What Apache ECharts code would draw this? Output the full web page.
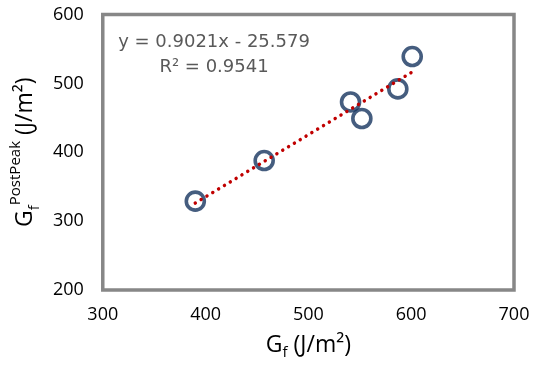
<!DOCTYPE html>
<html>
<head>
<meta charset="utf-8">
<script src="https://cdn.jsdelivr.net/npm/echarts@6/dist/echarts.min.js"></script>
<style>html,body{margin:0;padding:0;background:#fff}#c{width:535px;height:367px}</style>
</head>
<body>
<div id="c"></div>
<script>
// Data
const gf = [390, 457, 541, 552, 587, 601];
const gfPostPeak = [329, 388, 473, 449, 492, 539];
const xTicks = [300, 400, 500, 600, 700];
const yTicks = [200, 300, 400, 500, 600];
const slope = 0.9021;
const intercept = -25.579;
const rSquared = 0.9541;

const points = gf.map((x, i) => [x, gfPostPeak[i]]);
const xMinD = Math.min(...gf), xMaxD = Math.max(...gf);
const trend = [[xMinD, slope * xMinD + intercept], [xMaxD, slope * xMaxD + intercept]];

const chart = echarts.init(document.getElementById('c'), null, {renderer: 'canvas'});
const labelFont = {fontFamily: 'Open Sans', fontSize: 18, color: '#000'};
chart.setOption({
  animation: false,
  grid: {left: 98, right: 21, top: 14.5, bottom: 77, show: true, borderColor: '#878787', borderWidth: 3.5, backgroundColor: 'transparent'},
  xAxis: {
    type: 'value', min: xTicks[0], max: xTicks[xTicks.length - 1], interval: 100,
    axisLine: {show: false}, axisTick: {show: false}, splitLine: {show: false},
    axisLabel: Object.assign({margin: 16}, labelFont),
    name: '{b|G}{sub|f}{b| (J/m²)}', nameLocation: 'middle', nameGap: 40,
    nameTextStyle: {
      rich: {
        b: {fontFamily: 'Open Sans', fontSize: 23, color: '#000', lineHeight: 30, verticalAlign: 'middle'},
        sub: {fontFamily: 'Open Sans', fontSize: 15, color: '#000', lineHeight: 30, verticalAlign: 'bottom'}
      }
    }
  },
  yAxis: {
    type: 'value', min: yTicks[0], max: yTicks[yTicks.length - 1], interval: 100,
    axisLine: {show: false}, axisTick: {show: false}, splitLine: {show: false},
    axisLabel: Object.assign({margin: 19}, labelFont),
    name: '{b|G}{sub|f}{sup|PostPeak}{b| (J/m²)}', nameLocation: 'middle', nameGap: 57,
    nameTextStyle: {
      rich: {
        b: {fontFamily: 'Open Sans', fontSize: 23, color: '#000', lineHeight: 34, verticalAlign: 'middle'},
        sub: {fontFamily: 'Open Sans', fontSize: 15, color: '#000', lineHeight: 34, verticalAlign: 'bottom'},
        sup: {fontFamily: 'Open Sans', fontSize: 15, color: '#000', lineHeight: 34, verticalAlign: 'top'}
      }
    }
  },
  graphic: [
    {type: 'text', x: 214, y: 42, style: {text: 'y = ' + slope + 'x - ' + Math.abs(intercept), fontFamily: 'DejaVu Sans', fontSize: 18, fill: '#595959', align: 'center', verticalAlign: 'middle'}},
    {type: 'text', x: 214, y: 67, style: {text: 'R² = ' + rSquared, fontFamily: 'DejaVu Sans', fontSize: 18, fill: '#595959', align: 'center', verticalAlign: 'middle'}}
  ],
  series: [
    {
      type: 'scatter', data: points, symbol: 'circle', symbolSize: 18,
      itemStyle: {color: 'rgba(0,0,0,0)', borderColor: '#17345f', borderWidth: 3.6},
      z: 2
    },
    {
      type: 'line', data: trend, showSymbol: false, symbol: 'none',
      lineStyle: {color: '#c00000', width: 3.5, type: [0.01, 6.8], cap: 'round'},
      z: 3
    }
  ]
});
</script>
</body>
</html>
